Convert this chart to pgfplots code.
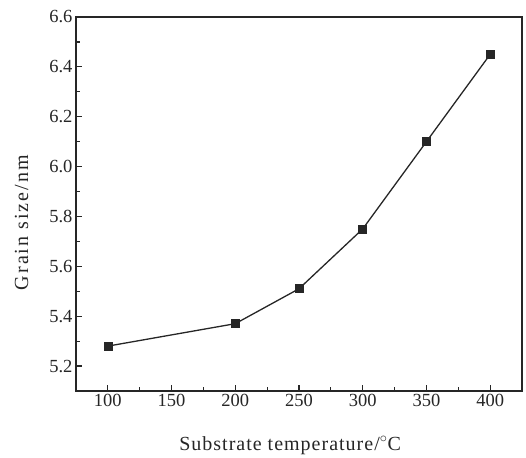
\documentclass[border=0pt]{standalone}
\usepackage{fontspec}
\setmainfont{Liberation Serif}
\usepackage{pgfplots}
\pgfplotsset{compat=1.18}
\usetikzlibrary{calc}
\definecolor{ink}{HTML}{262626}
\begin{document}
\begin{tikzpicture}
\begin{axis}[
  scale only axis,
  width=446pt, height=374pt,
  xmin=75, xmax=425, ymin=5.1, ymax=6.6,
  xtick={100,150,...,400},
  ytick={5.2,5.4,...,6.6},
  minor x tick num=1, minor y tick num=1,
  tick align=inside,
  xtick pos=left, ytick pos=left,
  major tick length=6pt, minor tick length=4pt,
  every tick/.style={ink, line width=1.2pt},
  axis line style={ink, line width=1.5pt},
  tick label style={font=\fontsize{18.5}{20}\selectfont, ink},
  /pgf/number format/assume math mode=true,
  yticklabel style={/pgf/number format/.cd, fixed, fixed zerofill, precision=1},
  xticklabel style={/pgf/number format/.cd, fixed, precision=0},
  scaled ticks=false,
  xlabel={Substrate temperature/$^{\circ}$C},
  ylabel={Grain size/nm},
  every axis x label/.style={at={(axis description cs:0.48,-0.158)}, anchor=base, font=\fontsize{20}{22}\selectfont\addfontfeature{LetterSpace=5}, ink},
  every axis y label/.style={at={(axis description cs:-0.099,0.45)}, rotate=90, anchor=south, font=\fontsize{20}{22}\selectfont\addfontfeature{LetterSpace=10}, ink},
]
\addplot[ink, line width=1.3pt, mark=square*, mark size=4pt, mark options={fill=ink, draw=ink, line width=0.6pt}]
  coordinates {(100,5.28) (200,5.37) (250,5.51) (300,5.75) (350,6.10) (400,6.45)};
\end{axis}
\path ($(current axis.south west)+(-76pt,-64pt)$) rectangle ($(current axis.north east)+(4pt,17pt)$);
\end{tikzpicture}
\end{document}
